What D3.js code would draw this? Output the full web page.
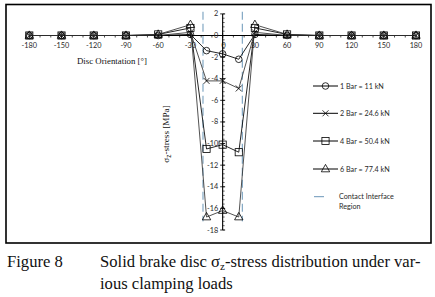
<!DOCTYPE html>
<html><head><meta charset="utf-8">
<script src="https://cdn.jsdelivr.net/npm/d3@7"></script>
<style>body{margin:0;background:#fff}svg{display:block}</style>
</head><body>
<script>
const angles = [-180,-150,-120,-90,-60,-30,-15,0,15,30,60,90,120,150,180];
const bar1 = [0,0,0,0,0,0.1,-1.4,-1.7,-2.2,0.1,0,0,0,0,0];
const bar2 = [0,0,0,0,0,0.3,-4.2,-4.2,-4.9,0.3,0,0,0,0,0];
const bar4 = [0,0,0,0,0.1,0.7,-10.5,-10.1,-10.8,0.7,0.1,0,0,0,0];
const bar6 = [0,0,0,0,0.1,1.0,-16.8,-16.2,-16.8,1.0,0.1,0,0,0,0];
const seriesNames = ["1 Bar = 11 kN","2 Bar = 24.6 kN","4 Bar = 50.4 kN","6 Bar = 77.4 kN"];
const markerTypes = ["circle","cross","square","triangle"];
const contactAngles = [-18.3, 18.3];
const contactName = ["Contact Interface","Region"];
const xTicks = [-180,-150,-120,-90,-60,-30,0,30,60,90,120,150,180];
const yTicks = [2,0,-2,-4,-6,-8,-10,-12,-14,-16,-18];

const W=435,H=297;
const svg=d3.select("body").append("svg").attr("width",W).attr("height",H);
const x=d3.scaleLinear().domain([-180,180]).range([29.3,416]);
const y=d3.scaleLinear().domain([-18,2]).range([230,13.9]);

// frame
svg.append("rect").attr("x",6).attr("y",4.5).attr("width",425).attr("height",238.5)
  .attr("fill","none").attr("stroke","#000").attr("stroke-width",1.6);

// contact lines
svg.selectAll(".contact").data(contactAngles).enter().append("line")
  .attr("x1",d=>x(d)).attr("x2",d=>x(d)).attr("y1",y(2.2)).attr("y2",y(-17.2))
  .attr("stroke","#6a96b8").attr("stroke-width",1).attr("stroke-dasharray","8,4");

const tickFont="Lato, 'Open Sans', sans-serif";
// x axis
const gx=svg.append("g");
gx.append("line").attr("x1",x(-180)).attr("x2",x(180)).attr("y1",y(0)).attr("y2",y(0)).attr("stroke","#000").attr("stroke-width",1.1);
gx.selectAll(".mn").data(d3.range(-180,181,10)).enter().append("line")
  .attr("x1",d=>x(d)).attr("x2",d=>x(d)).attr("y1",y(0)).attr("y2",y(0)+2).attr("stroke","#000").attr("stroke-width",0.7);
gx.selectAll(".mj").data(xTicks).enter().append("line")
  .attr("x1",d=>x(d)).attr("x2",d=>x(d)).attr("y1",y(0)-2.5).attr("y2",y(0)+2.5).attr("stroke","#000").attr("stroke-width",0.8);
gx.selectAll(".xl").data(xTicks).enter().append("text")
  .attr("x",d=>x(d)+(d===0?1:0)).attr("y",y(0)+12).attr("text-anchor","middle")
  .attr("font-family",tickFont).attr("font-size",7.3).attr("fill","#2a2a2a").text(d=>d);
// y axis
const gy=svg.append("g");
gy.append("line").attr("x1",x(0)).attr("x2",x(0)).attr("y1",y(2)).attr("y2",y(-18)).attr("stroke","#000").attr("stroke-width",1.1);
gy.selectAll(".mn").data(d3.range(-18,2.01,0.4)).enter().append("line")
  .attr("x1",x(0)).attr("x2",x(0)+2).attr("y1",d=>y(d)).attr("y2",d=>y(d)).attr("stroke","#000").attr("stroke-width",0.6);
gy.selectAll(".mj").data(yTicks).enter().append("line")
  .attr("x1",x(0)-2.5).attr("x2",x(0)+2.5).attr("y1",d=>y(d)).attr("y2",d=>y(d)).attr("stroke","#000").attr("stroke-width",0.8);
gy.selectAll(".yl").data(yTicks).enter().append("text")
  .attr("x",x(0)-4.5).attr("y",d=>y(d)+2.5).attr("text-anchor","end")
  .attr("font-family",tickFont).attr("font-size",7.3).attr("fill","#2a2a2a").text(d=>d);

// axis titles
svg.append("text").attr("x",112).attr("y",64).attr("text-anchor","middle")
  .attr("font-family","'Liberation Serif', serif").attr("font-size",8.8).attr("fill","#111")
  .text("Disc Orientation [°]");
const yt=svg.append("text").attr("transform","translate(168.5,134) rotate(-90)").attr("text-anchor","middle")
  .attr("font-family","'Liberation Serif', serif").attr("font-size",9.2).attr("fill","#111");
yt.append("tspan").text("σ");
yt.append("tspan").attr("font-size",6.5).attr("dy",2).attr("font-family","'Liberation Sans', sans-serif").text("z");
yt.append("tspan").attr("dy",-2).text("-stress [MPa]");

// markers
function marker(g,type,cx,cy){
  const s={fill:"none",stroke:"#000","stroke-width":0.8};
  let el;
  if(type==="circle") el=g.append("circle").attr("cx",cx).attr("cy",cy).attr("r",3.3);
  else if(type==="square") el=g.append("rect").attr("x",cx-3.6).attr("y",cy-3.6).attr("width",7.2).attr("height",7.2);
  else if(type==="triangle") el=g.append("path").attr("d",`M${cx},${cy-4.6}L${cx+4.2},${cy+2.8}L${cx-4.2},${cy+2.8}Z`);
  else el=g.append("path").attr("d",`M${cx-3},${cy-3}L${cx+3},${cy+3}M${cx-3},${cy+3}L${cx+3},${cy-3}`);
  for(const k in s) el.attr(k,s[k]);
}
const allSeries=[bar1,bar2,bar4,bar6];
const line=d3.line().x(d=>x(d[0])).y(d=>y(d[1]));
allSeries.forEach((vals,i)=>{
  const g=svg.append("g");
  const pts=angles.map((a,j)=>[a,vals[j]]);
  g.append("path").attr("d",line(pts)).attr("fill","none").attr("stroke",i%2?"#333":"#000").attr("stroke-width",0.85);
  pts.forEach(p=>marker(g,markerTypes[i],x(p[0]),y(p[1])));
});

// legend
const legY=[86,113.3,141,169];
const lf="Lato, 'Open Sans', sans-serif";
seriesNames.forEach((n,i)=>{
  const g=svg.append("g");
  g.append("line").attr("x1",313).attr("x2",338).attr("y1",legY[i]).attr("y2",legY[i]).attr("stroke","#000").attr("stroke-width",1);
  marker(g,markerTypes[i],325.5,legY[i]);
  g.append("text").attr("x",340).attr("y",legY[i]+2.5).attr("font-family",lf).attr("font-size",7.2).attr("fill","#2a2a2a").text(n);
});
svg.append("line").attr("x1",314).attr("x2",324).attr("y1",196.7).attr("y2",196.7).attr("stroke","#6a96b8").attr("stroke-width",1);
contactName.forEach((t,i)=>svg.append("text").attr("x",339).attr("y",199.2+i*9.5)
  .attr("font-family",lf).attr("font-size",7.2).attr("fill","#2a2a2a").text(t));

// caption
const cf="'Liberation Serif', 'Times New Roman', serif";
svg.append("text").attr("x",7).attr("y",267).attr("font-family",cf).attr("font-size",16.6).attr("fill","#111").text("Figure 8");
const c1=svg.append("text").attr("x",100).attr("y",267).attr("font-family",cf).attr("font-size",16.6).attr("fill","#111");
c1.append("tspan").text("Solid brake disc σ");
c1.append("tspan").attr("font-size",11).attr("dy",3).text("z");
c1.append("tspan").attr("dy",-3).text("-stress distribution under var-");
svg.append("text").attr("x",100).attr("y",289).attr("font-family",cf).attr("font-size",16.6).attr("fill","#111").text("ious clamping loads");
</script>
</body></html>
